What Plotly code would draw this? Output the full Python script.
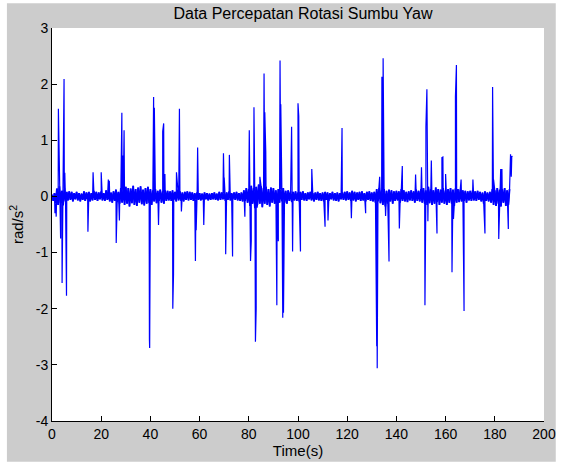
import plotly.graph_objects as go

# Sample interval of the background (noise) signal, seconds
DT = 0.5

# Baseline noise samples, rad/s^2, every 0.5 s from t = 0 s
baseline = [
    0.03, -0.08, 0.06, -0.12, 0.14, -0.15, 0.18, -0.12, 0.10, -0.16, 0.15, -0.09, 0.08, -0.07, 0.09, -0.06, 0.08, -0.09, 0.06, -0.05,
    0.08, -0.07, 0.06, -0.09, 0.05, -0.06, 0.09, -0.08, 0.07, -0.05, 0.08, -0.09, 0.06, -0.07, 0.10, -0.06, 0.08, -0.08, 0.07, -0.05,
    0.09, -0.07, 0.06, -0.08, 0.11, -0.06, 0.08, -0.09, 0.07, -0.11, 0.09, -0.08, 0.12, -0.10, 0.08, -0.13, 0.15, -0.11, 0.13, -0.15,
    0.17, -0.13, 0.15, -0.18, 0.14, -0.12, 0.19, -0.15, 0.13, -0.17, 0.16, -0.11, 0.18, -0.14, 0.12, -0.16, 0.15, -0.13, 0.17, -0.12,
    0.13, -0.15, 0.11, -0.09, 0.13, -0.12, 0.10, -0.08, 0.12, -0.11, 0.09, -0.13, 0.11, -0.08, 0.10, -0.07, 0.09, -0.08, 0.11, -0.06,
    0.08, -0.09, 0.12, -0.07, 0.09, -0.08, 0.07, -0.09, 0.08, -0.06, 0.09, -0.07, 0.08, -0.06, 0.07, -0.08, 0.06, -0.05, 0.07, -0.06,
    0.06, -0.07, 0.05, -0.06, 0.07, -0.05, 0.06, -0.07, 0.05, -0.06, 0.06, -0.05, 0.07, -0.06, 0.05, -0.07, 0.08, -0.06, 0.07, -0.05,
    0.06, -0.08, 0.07, -0.06, 0.09, -0.07, 0.06, -0.05, 0.07, -0.06, 0.08, -0.07, 0.06, -0.08, 0.07, -0.09, 0.11, -0.08, 0.15, -0.11,
    0.13, -0.17, 0.19, -0.13, 0.15, -0.21, 0.17, -0.15, 0.21, -0.13, 0.18, -0.19, 0.15, -0.13, 0.17, -0.15, 0.13, -0.18, 0.16, -0.11,
    0.15, -0.13, 0.11, -0.15, 0.13, -0.11, 0.12, -0.09, 0.15, -0.12, 0.10, -0.13, 0.11, -0.08, 0.09, -0.10, 0.08, -0.07, 0.09, -0.08,
    0.07, -0.09, 0.08, -0.06, 0.09, -0.07, 0.06, -0.08, 0.07, -0.05, 0.08, -0.07, 0.06, -0.09, 0.07, -0.06, 0.08, -0.07, 0.06, -0.08,
    0.07, -0.09, 0.08, -0.06, 0.07, -0.08, 0.06, -0.05, 0.08, -0.07, 0.06, -0.08, 0.07, -0.09, 0.06, -0.05, 0.07, -0.06, 0.08, -0.07,
    0.09, -0.06, 0.07, -0.08, 0.10, -0.07, 0.08, -0.09, 0.07, -0.06, 0.08, -0.08, 0.09, -0.07, 0.06, -0.09, 0.08, -0.06, 0.09, -0.08,
    0.07, -0.09, 0.08, -0.11, 0.13, -0.09, 0.15, -0.12, 0.11, -0.15, 0.13, -0.18, 0.10, -0.13, 0.12, -0.09, 0.11, -0.13, 0.09, -0.08,
    0.10, -0.07, 0.09, -0.11, 0.13, -0.08, 0.11, -0.09, 0.08, -0.10, 0.09, -0.07, 0.11, -0.08, 0.09, -0.11, 0.12, -0.08, 0.10, -0.09,
    0.13, -0.11, 0.15, -0.13, 0.11, -0.15, 0.17, -0.12, 0.13, -0.15, 0.11, -0.13, 0.16, -0.10, 0.13, -0.15, 0.12, -0.11, 0.15, -0.13,
    0.11, -0.15, 0.13, -0.11, 0.15, -0.13, 0.12, -0.17, 0.14, -0.11, 0.13, -0.10, 0.12, -0.09, 0.11, -0.08, 0.10, -0.11, 0.09, -0.07,
    0.10, -0.08, 0.11, -0.07, 0.09, -0.08, 0.10, -0.06, 0.08, -0.09, 0.07, -0.13, 0.09, -0.08, 0.07, -0.09, 0.08, -0.11, 0.13, -0.15,
    0.11, -0.17, 0.15, -0.13, 0.12, -0.18, 0.13, -0.11, 0.15, -0.17, 0.11, -0.15, 0.13,
]

# Spike events (time in s, value in rad/s^2)
spike_t = [
    1.2, 1.7, 2.6, 2.9, 3.5, 4.1, 4.9, 5.2, 5.9,
    14.6, 16.7, 20.0, 22.9, 23.3, 26.1, 27.4, 28.4, 28.8, 29.3,
    39.6, 39.7, 41.3, 41.6, 43.3, 45.0, 45.4, 45.9, 49.1, 49.4, 50.6,
    51.8, 52.6, 58.3, 58.6, 59.2, 61.7, 69.7, 70.0, 70.6, 72.1, 73.4, 78.4,
    80.2, 80.5, 80.7, 81.0, 82.1, 82.3, 82.7, 83.0, 83.4, 84.5, 86.2, 86.5, 86.9,
    91.4, 92.0, 92.7, 93.0, 93.8, 94.1, 97.4, 97.8, 100.0, 100.3, 101.0,
    105.6, 111.0, 112.2, 117.9, 121.7, 127.5,
    132.0, 132.2, 133.2, 134.1, 134.6, 135.6, 137.0, 141.2, 142.4, 147.8,
    150.2, 151.6, 152.0, 152.4, 152.8, 154.2, 156.5, 158.5, 158.9, 160.0,
    162.6, 163.2, 164.0, 164.4, 166.3, 167.5, 171.1, 176.0, 179.1, 179.5,
    181.6, 182.4, 182.9, 185.5, 186.4, 186.7, 186.9, 187.1,
]
spike_v = [
    -0.30, -0.36, 1.56, 0.80, -0.75, -1.54, 2.09, 0.42, -1.77,
    -0.63, 0.43, 0.43, 0.30, 0.28, -0.83, -0.43, 1.49, 0.73, 1.18,
    -2.55, -2.70, 1.77, 1.58, -0.51, 1.16, 1.30, 0.40, -2.00, -1.38, 0.43,
    1.56, -0.27, -1.15, -0.60, 0.87, -0.51, 0.77, 0.33, -1.03, 0.74, -1.07, -0.36,
    1.18, 1.08, -1.15, -0.80, 1.59, 1.00, -2.59, -2.00, -0.20, 0.35, 2.19, 1.50, 0.80,
    -1.94, -0.80, 2.42, 1.64, -2.16, -2.07, 1.24, -0.98, 1.66, 1.43, -0.98,
    0.49, -0.54, -0.43, 1.22, -0.39, -0.30,
    -2.67, -3.06, 0.35, 2.13, 2.46, -0.35, -1.16, -0.57, 0.54, 0.39,
    0.52, -1.94, 1.24, 1.91, -0.44, 0.64, -0.66, 0.69, 0.70, 0.40,
    -1.35, -0.40, 1.78, 2.34, 0.30, -2.04, 0.30, -0.66, 1.95, 0.30,
    -0.76, 0.49, 0.49, -0.58, 0.75, 0.35, 0.72, 0.70,
]

x_ticks = [0, 20, 40, 60, 80, 100, 120, 140, 160, 180, 200]
y_ticks = [-4, -3, -2, -1, 0, 1, 2, 3]

t_base = [i * DT for i in range(len(baseline))]
pts = sorted(zip(t_base + spike_t, baseline + spike_v))
xs = [p[0] for p in pts]
ys = [p[1] for p in pts]

FONT = "Liberation Sans"

fig = go.Figure()
fig.add_trace(go.Scatter(x=xs, y=ys, mode="lines",
                         line=dict(color="#0000ff", width=1.2),
                         showlegend=False, hoverinfo="skip"))
# denser rendering of the noisy background band
fig.add_trace(go.Scatter(x=t_base, y=baseline, mode="lines",
                         line=dict(color="#0000ff", width=1.8),
                         showlegend=False, hoverinfo="skip"))

# plot area pixel geometry
L, R, T, B = 52, 14, 28, 43
W, H = 568, 467
pw, ph = W - L - R, H - T - B


def px2x(px):
    return (px - L) / pw


def py2y(py):
    return (H - B - py) / ph


fig.update_layout(
    width=W, height=H,
    margin=dict(l=L, r=R, t=T, b=B, pad=0),
    paper_bgcolor="white",
    plot_bgcolor="rgba(0,0,0,0)",
    font=dict(family=FONT, size=13, color="black"),
    title=dict(text="Data Percepatan Rotasi Sumbu Yaw", x=(L + pw / 2) / W, xanchor="center",
               y=1 - 13 / H, yanchor="middle", font=dict(family=FONT, size=16, color="black")),
    shapes=[
        dict(type="rect", xref="paper", yref="paper", layer="below",
             x0=px2x(6), x1=px2x(566), y0=py2y(465), y1=py2y(3),
             fillcolor="#cccccc", line=dict(width=0)),
        dict(type="rect", xref="paper", yref="paper", layer="below",
             x0=0, x1=1, y0=0, y1=1, fillcolor="white", line=dict(width=0)),
    ],
    xaxis=dict(range=[0, 200], tickvals=x_ticks, ticktext=[str(v) for v in x_ticks],
               showgrid=False, zeroline=False, showline=True, linecolor="black", linewidth=1,
               ticks="inside", ticklen=5, tickcolor="black", mirror=False,
               tickfont=dict(family=FONT, size=14, color="black"),
               title=dict(text="Time(s)", standoff=3, font=dict(family=FONT, size=15, color="black"))),
    yaxis=dict(range=[-4, 3], tickvals=y_ticks, ticktext=[str(v) for v in y_ticks],
               showgrid=False, zeroline=False, showline=True, linecolor="black", linewidth=1,
               ticks="inside", ticklen=5, tickcolor="black", mirror=False,
               tickfont=dict(family=FONT, size=14, color="black"),
               title=dict(text="rad/s<sup>2</sup>", standoff=8, font=dict(family=FONT, size=15, color="black"))),
)

fig.write_html("out.html")
